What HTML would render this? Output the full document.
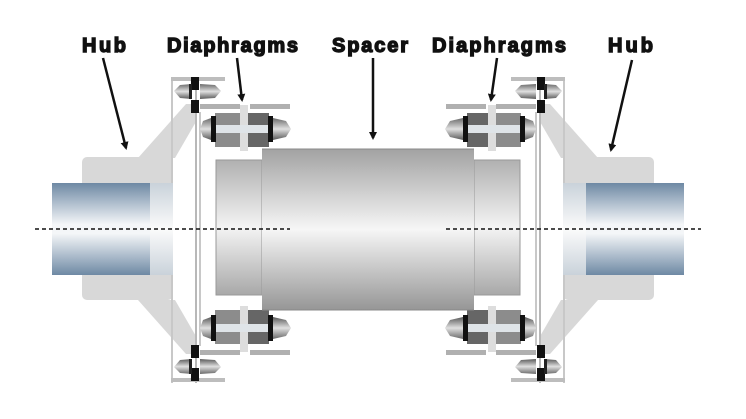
<!DOCTYPE html>
<html><head><meta charset="utf-8"><style>
html,body{margin:0;padding:0;background:#fff;}
svg{display:block}
text{font-family:"Liberation Sans",Arial,sans-serif;font-weight:bold;font-size:20px;fill:#111;stroke:#111;stroke-width:1.4px}
</style></head><body>
<svg width="746" height="419" viewBox="0 0 746 419" xmlns="http://www.w3.org/2000/svg">
<defs>
<linearGradient id="shaft" x1="0" y1="0" x2="0" y2="1">
<stop offset="0" stop-color="#6e89a4"/><stop offset="0.45" stop-color="#f4f6f8"/><stop offset="0.55" stop-color="#f4f6f8"/><stop offset="1" stop-color="#6e89a4"/></linearGradient>
<linearGradient id="bore" x1="0" y1="0" x2="0" y2="1">
<stop offset="0" stop-color="#c9d2da"/><stop offset="0.5" stop-color="#fbfbfb"/><stop offset="1" stop-color="#c9d2da"/></linearGradient>
<linearGradient id="tube" x1="0" y1="0" x2="0" y2="1">
<stop offset="0" stop-color="#a2a2a2"/><stop offset="0.5" stop-color="#f6f6f6"/><stop offset="1" stop-color="#969696"/></linearGradient>
<linearGradient id="fl" x1="0" y1="0" x2="0" y2="1">
<stop offset="0" stop-color="#b0b0b0"/><stop offset="0.5" stop-color="#f4f4f4"/><stop offset="1" stop-color="#a8a8a8"/></linearGradient>
<linearGradient id="bolt" x1="0" y1="0" x2="0" y2="1">
<stop offset="0" stop-color="#6a6a6a"/><stop offset="0.5" stop-color="#e0e0e0"/><stop offset="1" stop-color="#5a5a5a"/></linearGradient>
<marker id="ah" markerWidth="8" markerHeight="8" refX="6" refY="4" orient="auto" markerUnits="userSpaceOnUse"><path d="M0,0 L8,4 L0,8 z" fill="#111"/></marker>
<g id="pack">
<rect x="215" y="113" width="30" height="34" fill="#8c8c8c"/>
<rect x="245" y="113" width="24" height="34" fill="#666"/>
<rect x="240" y="105" width="8" height="46" fill="#ddd"/>
<rect x="205" y="125" width="80" height="8" fill="#dfe4e8"/>
<rect x="211" y="116" width="5" height="26" fill="#111"/>
<rect x="268" y="116" width="5" height="26" fill="#111"/>
<path d="M211,118 L203,121 L200,129 L203,137 L211,140 z" fill="url(#bolt)"/>
<path d="M273,118 L286,121 L291,129 L286,137 L273,140 z" fill="url(#bolt)"/>
</g>
<g id="small">
<path d="M192,84 L180,85 L174,91 L180,98 L192,99 z" fill="url(#bolt)"/>
<path d="M200,84 L215,85 L221,91 L215,98 L200,99 z" fill="url(#bolt)"/>
<rect x="191" y="77" width="8" height="13" fill="#111"/>
<rect x="191" y="100" width="8" height="13" fill="#111"/>
<rect x="189" y="84" width="3" height="15" fill="#222"/>
</g>
<g id="half">
<rect x="82" y="157" width="91" height="143" rx="5" fill="#d8d8d8"/>
<polygon points="138,158 175,158 197,120 197,104 186,104" fill="#d8d8d8"/>
<polygon points="138,300 175,300 197,338 197,354 186,354" fill="#d8d8d8"/>
<rect x="171" y="77" width="2" height="306" fill="#c8c8c8"/>
<rect x="195" y="77" width="2" height="306" fill="#b8b8b8"/>
<rect x="199" y="112" width="2" height="234" fill="#c8c8c8"/>
<rect x="171" y="77" width="54" height="4" fill="#bdbdbd"/>
<rect x="171" y="378" width="54" height="4" fill="#bdbdbd"/>
<rect x="200" y="104" width="40" height="5" fill="#b0b0b0"/>
<rect x="250" y="104" width="40" height="5" fill="#b0b0b0"/>
<rect x="200" y="350" width="40" height="5" fill="#b0b0b0"/>
<rect x="250" y="350" width="40" height="5" fill="#b0b0b0"/>
<rect x="52" y="183" width="98" height="92" fill="url(#shaft)"/>
<rect x="150" y="183" width="23" height="92" fill="url(#bore)"/>
<rect x="216" y="160" width="46" height="135" fill="url(#fl)"/>
<rect x="216" y="160" width="46" height="135" fill="none" stroke="#999" stroke-width="1"/>
<use href="#small"/>
<use href="#small" transform="translate(0,458) scale(1,-1)"/>
<use href="#pack"/>
<use href="#pack" transform="translate(0,457) scale(1,-1)"/>
</g>
</defs>
<use href="#half"/>
<use href="#half" transform="translate(736,0) scale(-1,1)"/>
<rect x="262" y="149" width="212" height="161" fill="url(#tube)"/>
<line x1="262" y1="149" x2="474" y2="149" stroke="#888"/>
<line x1="262" y1="310" x2="474" y2="310" stroke="#888"/>
<line x1="35" y1="229" x2="290" y2="229" stroke="#111" stroke-width="1.5" stroke-dasharray="4,3"/>
<line x1="446" y1="229" x2="701" y2="229" stroke="#111" stroke-width="1.5" stroke-dasharray="4,3"/>
<text x="82" y="52" textLength="44">Hub</text>
<text x="167" y="52" textLength="131">Diaphragms</text>
<text x="332" y="52" textLength="76">Spacer</text>
<text x="432" y="52" textLength="134">Diaphragms</text>
<text x="608" y="52" textLength="45">Hub</text>
<g stroke="#111" stroke-width="2.5" fill="none">
<line x1="103" y1="58" x2="126" y2="148" marker-end="url(#ah)"/>
<line x1="237" y1="58" x2="242" y2="100" marker-end="url(#ah)"/>
<line x1="373" y1="58" x2="373" y2="138" marker-end="url(#ah)"/>
<line x1="497" y1="58" x2="491" y2="100" marker-end="url(#ah)"/>
<line x1="632" y1="60" x2="611" y2="150" marker-end="url(#ah)"/>
</g>
</svg>
</body></html>
